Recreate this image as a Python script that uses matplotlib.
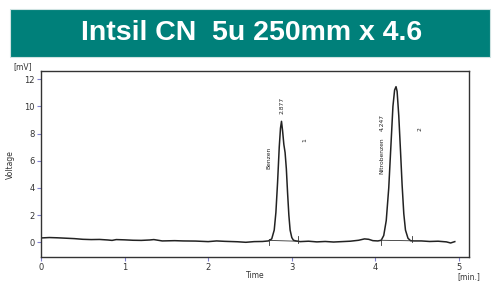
import matplotlib
matplotlib.use('Agg')
import matplotlib.pyplot as plt
from matplotlib.patches import Rectangle
import numpy as np

# Chromatogram readings (time [min], signal [mV])
time_pts = [0.0, 0.1, 0.2, 0.3, 0.4, 0.5, 0.6, 0.7, 0.8, 0.85, 0.9, 1.0, 1.1, 1.2, 1.3, 1.35, 1.4,
            1.45, 1.6, 1.7, 1.85, 2.0, 2.1, 2.2, 2.35, 2.45, 2.55, 2.65, 2.72,
            2.76, 2.79, 2.81, 2.83, 2.85, 2.865, 2.877, 2.89, 2.905, 2.92, 2.935, 2.95, 2.965,
            2.98, 3.0, 3.02, 3.05, 3.1, 3.2, 3.3, 3.4, 3.5, 3.6, 3.7, 3.8, 3.87, 3.92, 3.97, 4.03,
            4.07, 4.1, 4.13, 4.16, 4.19, 4.21, 4.23, 4.247, 4.26, 4.28, 4.30, 4.32, 4.34, 4.36,
            4.39, 4.42, 4.46, 4.55, 4.65, 4.75, 4.85, 4.9, 4.95]
signal_pts = [0.32, 0.35, 0.33, 0.30, 0.27, 0.22, 0.2, 0.21, 0.17, 0.14, 0.2, 0.18, 0.15, 0.14, 0.17, 0.2, 0.15,
              0.1, 0.12, 0.1, 0.09, 0.05, 0.1, 0.07, 0.04, 0.0, 0.05, 0.06, 0.1,
              0.25, 0.9, 2.2, 4.4, 7.0, 8.4, 8.9, 8.2, 7.2, 6.6, 5.4, 3.6, 2.0,
              0.9, 0.35, 0.15, 0.1, 0.05, 0.08, 0.03, 0.06, 0.02, 0.05, 0.08, 0.15, 0.25, 0.22, 0.12, 0.1,
              0.15, 0.5, 1.6, 4.0, 7.6, 10.0, 11.2, 11.45, 11.1, 9.3, 6.8, 4.2, 2.1, 0.9,
              0.3, 0.12, 0.1, 0.1, 0.06, 0.08, 0.03, -0.05, 0.05]

# Peak annotations
peak_rt = [2.877, 4.247]
peak_names = ['Benzen', 'Nitrobenzen']
peak_ids = ['1', '2']
peak_start = [2.73, 4.07]
peak_end = [3.07, 4.44]

xticks = [0, 1, 2, 3, 4, 5]
yticks = [0, 2, 4, 6, 8, 10, 12]

fig = plt.figure(figsize=(5.0, 2.83), dpi=100)

# Title banner
fig.add_artist(Rectangle((0.02, 0.80), 0.96, 0.168, transform=fig.transFigure,
                         facecolor='#00807A', edgecolor='#cfe3e2', linewidth=0.8))
fig.text(0.503, 0.884, 'Intsil CN  5u 250mm x 4.6', ha='center', va='center',
         color='white', fontsize=20.5, fontweight='bold', family='Liberation Sans')

ax = fig.add_axes([0.082, 0.091, 0.856, 0.658])
ax.plot(time_pts, signal_pts, color='#222222', lw=1.1)

# baselines under the peaks with small start/end marks
for i in range(len(peak_rt)):
    y0 = np.interp(peak_start[i], time_pts, signal_pts)
    y1 = np.interp(peak_end[i], time_pts, signal_pts)
    ax.plot([peak_start[i], peak_end[i]], [y0, y1], color='#333333', lw=0.6)
    ax.plot([peak_start[i], peak_start[i]], [y0 - 0.35, y0 + 0.1], color='#333333', lw=0.6)
    ax.plot([peak_end[i], peak_end[i]], [y1 - 0.1, y1 + 0.35], color='#333333', lw=0.6)

# peak labels
lab_font = dict(fontsize=4.3, rotation=90, color='#222222', family='Liberation Sans Narrow',
                ha='center', va='center')
ax.text(2.88, 10.1, '2.877', **lab_font)
ax.text(2.73, 6.2, peak_names[0], **lab_font)
ax.text(3.15, 7.5, peak_ids[0], **lab_font)
ax.text(4.08, 6.4, peak_names[1], **lab_font)
ax.text(4.08, 8.8, '4.247', **lab_font)
ax.text(4.53, 8.3, peak_ids[1], **lab_font)

ax.set_xlim(0, 5.12)
ax.set_ylim(-1.1, 12.6)
ax.set_xticks(xticks)
ax.set_yticks(yticks)
ax.tick_params(direction='out', length=3, width=0.8, color='#8080d0',
               labelsize=6, labelcolor='#333333', pad=1.5)
for s in ax.spines.values():
    s.set_color('#333333')
    s.set_linewidth(1.0)

ax.text(-0.02, 1.0, '[mV]', transform=ax.transAxes, ha='right', va='bottom',
        fontsize=5.5, color='#333333')
ax.text(4.98, -2.55, '[min.]', ha='left', va='center', fontsize=5.5, color='#333333')
fig.text(0.51, 0.027, 'Time', ha='center', va='center', fontsize=5.5, color='#333333')
fig.text(0.02, 0.42, 'Voltage', ha='center', va='center', rotation=90, fontsize=5.5,
         color='#333333', family='Liberation Sans Narrow')

fig.savefig('out.png', dpi=100)
